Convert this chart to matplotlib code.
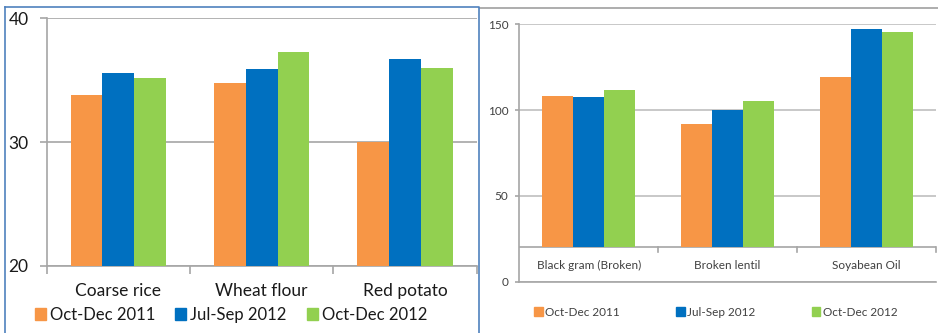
import numpy as np
import matplotlib
matplotlib.use("Agg")
import matplotlib.pyplot as plt
from matplotlib.patches import Rectangle
from matplotlib.lines import Line2D

plt.rcParams["font.family"] = ["Lato", "DejaVu Sans"]

# Data
series = ["Oct-Dec 2011", "Jul-Sep 2012", "Oct-Dec 2012"]
colors = ["#F79646", "#0070C0", "#92D050"]

left_items = ["Coarse rice", "Wheat flour", "Red potato"]
left_oct_2011 = [33.8, 34.8, 30.0]
left_jul_2012 = [35.6, 35.9, 36.7]
left_oct_2012 = [35.2, 37.3, 36.0]

right_items = ["Black gram (Broken)", "Broken lentil", "Soyabean Oil"]
right_oct_2011 = [108.4, 92.1, 119.3]
right_jul_2012 = [107.8, 99.9, 147.4]
right_oct_2012 = [111.9, 105.3, 145.7]

W, H = 938, 333
fig = plt.figure(figsize=(W / 100, H / 100), dpi=100)


def px_axes(x0, y0, x1, y1):
    # pixel box (top-left origin) -> figure axes
    return fig.add_axes([x0 / W, 1 - y1 / H, (x1 - x0) / W, (y1 - y0) / H])


bar_w = 0.222
offsets = np.array([-1, 0, 1]) * bar_w

# ---------------- left chart ----------------
axl = px_axes(46.7, 18.3, 476.7, 266)
x = np.arange(len(left_items))
for vals, off, c, name in zip([left_oct_2011, left_jul_2012, left_oct_2012], offsets, colors, series):
    axl.bar(x + off, vals, width=bar_w, color=c, label=name, zorder=3)
axl.set_ylim(20, 40)
axl.set_xlim(-0.5, 2.5)
axl.set_yticks([20, 30, 40])
axl.yaxis.grid(True, color="#a6a6a6", lw=1.2, zorder=0)
axl.set_xticks([-0.5, 0.5, 1.5, 2.5])
axl.set_xticklabels([])
for i, name in enumerate(left_items):
    axl.text(i, -0.1, name, transform=axl.get_xaxis_transform(), ha="center", va="center",
             fontsize=12.5, color="#1a1a1a")
for s in ["top", "right"]:
    axl.spines[s].set_visible(False)
for s in ["left", "bottom"]:
    axl.spines[s].set_color("#a6a6a6")
    axl.spines[s].set_linewidth(1.2)
axl.tick_params(axis="y", length=5, color="#a6a6a6", width=1.2, labelsize=12.5, labelcolor="#1a1a1a", pad=8)
axl.tick_params(axis="x", length=6, color="#a6a6a6", width=1.2)

hl = [Rectangle((0, 0), 1, 1, color=c) for c in colors]
fig.legend(hl, series, loc="center", bbox_to_anchor=(231 / W, 1 - 315 / H), ncol=3, frameon=False,
           fontsize=12, handlelength=0.65, handleheight=0.75, handletextpad=0.25, columnspacing=1.2,
           borderpad=0, labelcolor="#1a1a1a")

# ---------------- right chart ----------------
axr = px_axes(519.3, 24.3, 935.7, 281.7)
x = np.arange(len(right_items))
base = 20
for vals, off, c in zip([right_oct_2011, right_jul_2012, right_oct_2012], offsets, colors):
    axr.bar(x + off, np.array(vals) - base, bottom=base, width=bar_w, color=c, zorder=3)
axr.set_ylim(0, 150)
axr.set_xlim(-0.5, 2.5)
axr.set_yticks([0, 50, 100, 150])
axr.yaxis.grid(True, color="#bfbfbf", lw=1.2, zorder=0)
axr.set_xticks([])
axr.axhline(base, color="#a6a6a6", lw=1.2, zorder=2)
for xb in [0.5, 1.5, 2.5]:
    axr.plot([xb, xb], [base, base - 2.5], color="#a6a6a6", lw=1.2, clip_on=False)
for i, name in enumerate(right_items):
    axr.text(i, 9.5, name, ha="center", va="center", fontsize=8.5, color="#404040")
for s in ["top", "right"]:
    axr.spines[s].set_visible(False)
for s in ["left", "bottom"]:
    axr.spines[s].set_color("#a6a6a6")
    axr.spines[s].set_linewidth(1.2)
axr.tick_params(axis="y", length=3, color="#a6a6a6", width=1.2, labelsize=8.5, labelcolor="#404040", pad=5)

fig.legend(hl, series, loc="center", bbox_to_anchor=(715.8 / W, 1 - 312 / H), ncol=3, frameon=False,
           fontsize=8.5, handlelength=0.7, handleheight=0.8, handletextpad=0.2, columnspacing=4.8,
           borderpad=0, labelcolor="#404040")

# panel borders
fig.add_artist(Line2D([480 / W, 1], [1 - 8 / H, 1 - 8 / H], color="#a0a0a0", lw=1.2))
fig.add_artist(Line2D([5 / W, 479 / W, 479 / W], [1 - 7 / H, 1 - 7 / H, 0], color="#4f81bd", lw=1.2))
fig.add_artist(Line2D([5 / W, 5 / W], [1 - 7 / H, 0], color="#4f81bd", lw=1.2))

fig.savefig("out.png", dpi=100)
